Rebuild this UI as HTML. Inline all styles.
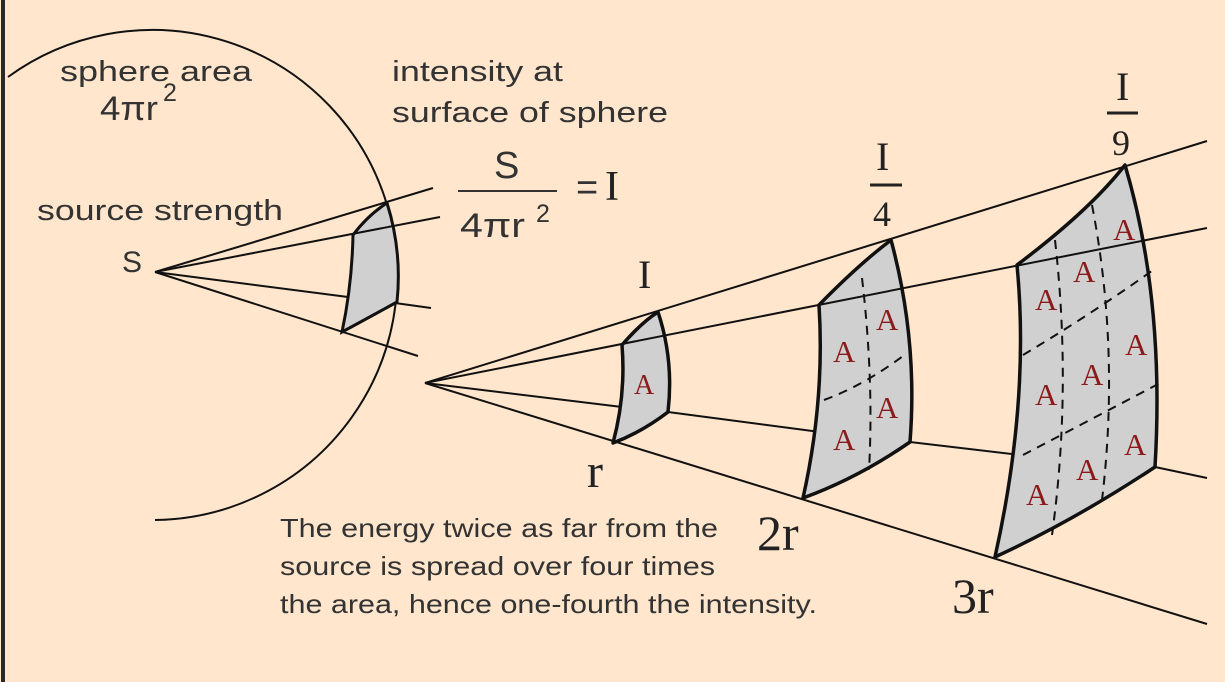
<!DOCTYPE html>
<html><head><meta charset="utf-8"><style>
html,body{margin:0;padding:0;background:#FFE6CC;}
svg{display:block}
.s{font-family:"Liberation Sans",sans-serif;fill:#333}
.f{font-family:"Liberation Serif",serif;fill:#222}
.a{font-family:"Liberation Serif",serif;fill:#8B1A1A;font-size:31px}
</style></head><body>
<svg width="1225" height="682" viewBox="0 0 1225 682" xmlns="http://www.w3.org/2000/svg">
<rect x="0" y="0" width="1225" height="682" fill="#FFE6CC"/>
<rect x="1" y="0" width="4" height="682" fill="#2a2a2a"/>
<g fill="none" stroke="#111" stroke-width="2">
<path d="M8 77 A245 245 0 1 1 155 520"/>
<line x1="155" y1="272" x2="433" y2="188"/>
<line x1="155" y1="272" x2="348" y2="297"/>
<line x1="395" y1="303" x2="431" y2="308"/>
<line x1="155" y1="272" x2="418" y2="356"/>
</g>
<path d="M353 235 Q368 215 387 203 A245 245 0 0 1 397 302 Q368 318 342 332 Q352 285 353 235 Z" fill="#d0d0d0" stroke="#111" stroke-width="3"/>
<line x1="155" y1="272" x2="440" y2="217" stroke="#111" stroke-width="2"/>

<!-- third ray segments (behind patches) -->
<g fill="none" stroke="#111" stroke-width="2">
<line x1="425" y1="383" x2="622" y2="407"/>
<line x1="668" y1="412" x2="820" y2="432"/>
<line x1="910" y1="442" x2="1020" y2="455"/>
<line x1="1155" y1="467" x2="1207" y2="478"/>
</g>
<g stroke="#111" stroke-width="3.5" fill="#d0d0d0" stroke-linejoin="round">
<path d="M622 345 Q642 322 658 312 Q674 360 668 412 Q642 432 613 443 Q626 395 622 345 Z"/>
<path d="M819 305 Q858 265 891 240 Q918 340 910 442 Q858 478 803 498 Q825 400 819 305 Z"/>
<path d="M1017 265 Q1090 210 1125 165 Q1165 300 1155 467 Q1075 520 995 557 Q1030 400 1017 265 Z"/>
</g>
<g fill="none" stroke="#111" stroke-width="2">
<line x1="425" y1="383" x2="1207" y2="141"/>
<line x1="425" y1="383" x2="1207" y2="228"/>
<line x1="425" y1="383" x2="1207" y2="624"/>
</g>
<g fill="none" stroke="#111" stroke-width="2" stroke-dasharray="9,7">
<path d="M862 278 Q874 380 869 470"/>
<path d="M824 400 Q865 385 907 353"/>
<path d="M1055 240 Q1072 390 1052 535"/>
<path d="M1092 205 Q1120 350 1102 500"/>
<path d="M1023 355 Q1090 315 1156 268"/>
<path d="M1023 455 Q1090 420 1160 383"/>
</g>

<g class="a">
<text x="634" y="394" font-size="28">A</text>
<text x="876" y="330">A</text>
<text x="833" y="362">A</text>
<text x="876" y="418">A</text>
<text x="833" y="450">A</text>
<text x="1113" y="240">A</text>
<text x="1073" y="282">A</text>
<text x="1035" y="310">A</text>
<text x="1125" y="355">A</text>
<text x="1081" y="385">A</text>
<text x="1035" y="405">A</text>
<text x="1124" y="455">A</text>
<text x="1076" y="480">A</text>
<text x="1026" y="505">A</text>
</g>

<g class="s" font-size="29">
<text x="60" y="81" textLength="192" lengthAdjust="spacingAndGlyphs">sphere area</text>
<text x="100" y="120" font-size="34" textLength="58" lengthAdjust="spacingAndGlyphs">4πr</text>
<text x="163" y="101" font-size="25">2</text>
<text x="392" y="81" textLength="171" lengthAdjust="spacingAndGlyphs">intensity at</text>
<text x="392" y="122" textLength="276" lengthAdjust="spacingAndGlyphs">surface of sphere</text>
<text x="37" y="220" textLength="246" lengthAdjust="spacingAndGlyphs">source strength</text>
<text x="122" y="272" font-size="30">S</text>
<text x="494" y="178" font-size="38">S</text>
<text x="460" y="237" font-size="34" textLength="65" lengthAdjust="spacingAndGlyphs">4πr</text>
<text x="536" y="222" font-size="25">2</text>
<text x="576" y="200" font-size="38">=</text>
<text x="280" y="537" font-size="26" textLength="438" lengthAdjust="spacingAndGlyphs">The energy twice as far from the</text>
<text x="280" y="575" font-size="26" textLength="435" lengthAdjust="spacingAndGlyphs">source is spread over four times</text>
<text x="280" y="613" font-size="26" textLength="537" lengthAdjust="spacingAndGlyphs">the area, hence one-fourth the intensity.</text>
</g>
<line x1="458" y1="191" x2="557" y2="191" stroke="#333" stroke-width="2"/>
<g class="f">
<text x="605" y="200" font-size="42">I</text>
<text x="638" y="288" font-size="40">I</text>
<text x="587" y="487" font-size="48">r</text>
<text x="757" y="550" font-size="50">2r</text>
<text x="952" y="613" font-size="50">3r</text>
<text x="876" y="170" font-size="40">I</text>
<text x="873" y="226" font-size="36">4</text>
<text x="1116" y="100" font-size="40">I</text>
<text x="1112" y="155" font-size="36">9</text>
</g>
<line x1="870" y1="185" x2="902" y2="185" stroke="#222" stroke-width="3"/>
<line x1="1107" y1="113" x2="1138" y2="113" stroke="#222" stroke-width="3"/>
</svg>
</body></html>
